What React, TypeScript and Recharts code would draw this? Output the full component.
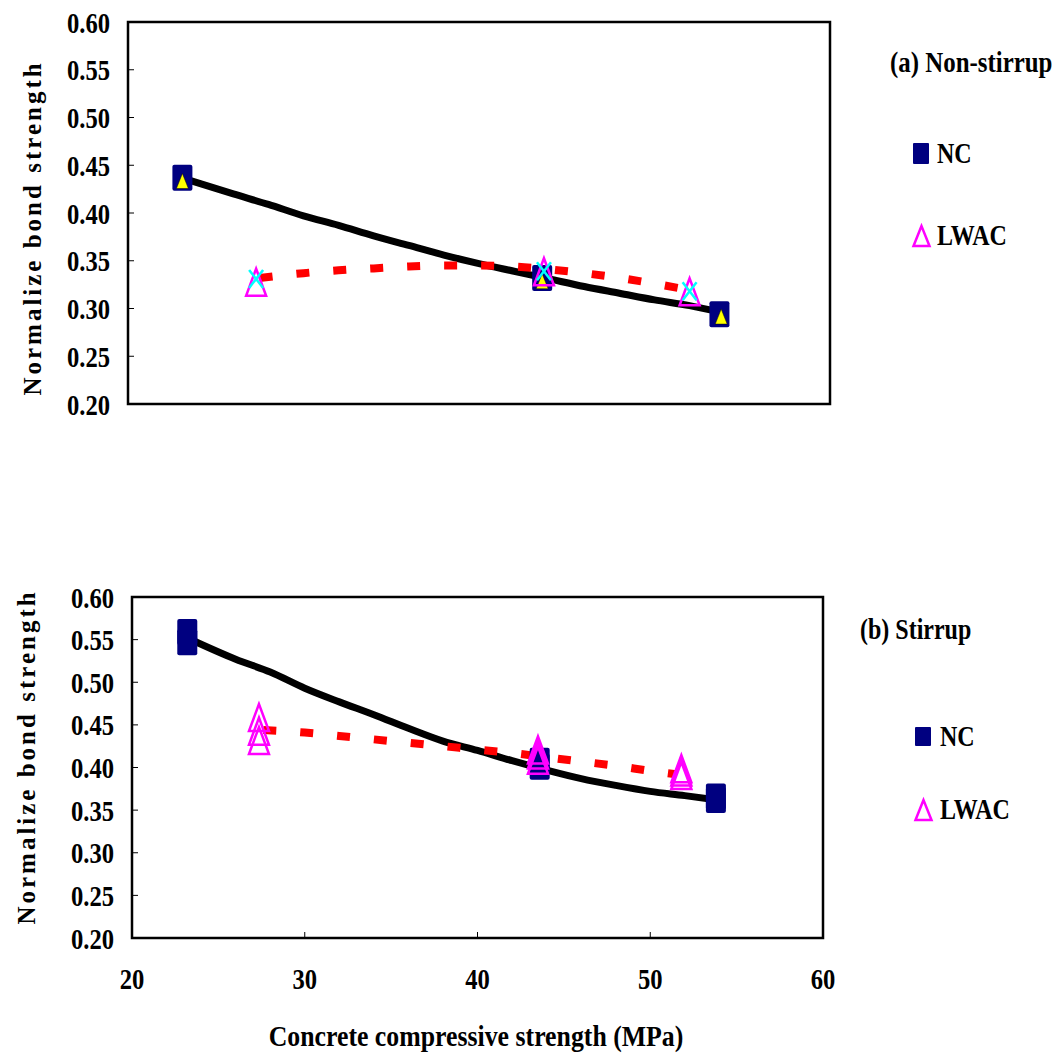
import React from "react";
import {
  ComposedChart,
  Scatter,
  Line,
  XAxis,
  YAxis,
  ReferenceArea,
} from "recharts";

// (a) Non-stirrup
const ncA = [
  { x: 23.1, y: 0.437 },
  { x: 43.6, y: 0.332 },
  { x: 53.7, y: 0.294 },
];
const ncAlt = [
  { x: 23.1, y: 0.433 },
  { x: 43.6, y: 0.328 },
  { x: 53.8, y: 0.291 },
];
const lwacA = [
  { x: 27.3, y: 0.327 },
  { x: 43.7, y: 0.338 },
  { x: 52.0, y: 0.317 },
];
const lwacCross = [
  { x: 27.3, y: 0.331 },
  { x: 43.7, y: 0.339 },
  { x: 52.0, y: 0.318 },
];
const ncTrendA = [
  { x: 23.2, y: 0.436 }, { x: 26, y: 0.42 }, { x: 28, y: 0.409 },
  { x: 30, y: 0.397 }, { x: 32, y: 0.387 }, { x: 34, y: 0.376 },
  { x: 36, y: 0.366 }, { x: 38, y: 0.356 }, { x: 40, y: 0.347 },
  { x: 42, y: 0.339 }, { x: 44, y: 0.331 }, { x: 46, y: 0.323 },
  { x: 48, y: 0.316 }, { x: 50, y: 0.309 }, { x: 52, y: 0.303 },
  { x: 53.8, y: 0.296 },
];
const lwacTrendA = [
  { x: 27.5, y: 0.332 }, { x: 30, y: 0.337 }, { x: 32, y: 0.34 },
  { x: 34, y: 0.342 }, { x: 36, y: 0.344 }, { x: 38, y: 0.345 },
  { x: 40, y: 0.345 }, { x: 42, y: 0.344 }, { x: 44, y: 0.341 },
  { x: 46, y: 0.337 }, { x: 48, y: 0.332 }, { x: 50, y: 0.326 },
  { x: 51.5, y: 0.321 },
];

// (b) Stirrup
const ncB = [
  { x: 23.2, y: 0.559 }, { x: 23.2, y: 0.547 },
  { x: 43.6, y: 0.408 }, { x: 43.6, y: 0.401 },
  { x: 53.8, y: 0.366 }, { x: 53.8, y: 0.362 },
];
const lwacB = [
  { x: 27.35, y: 0.458 }, { x: 27.35, y: 0.442 }, { x: 27.35, y: 0.431 },
  { x: 43.5, y: 0.42 }, { x: 43.5, y: 0.414 }, { x: 43.5, y: 0.408 },
  { x: 51.8, y: 0.398 }, { x: 51.8, y: 0.394 }, { x: 51.8, y: 0.39 },
];
const ncTrendB = [
  { x: 23.3, y: 0.551 }, { x: 26, y: 0.527 }, { x: 28, y: 0.512 },
  { x: 30, y: 0.493 }, { x: 32, y: 0.477 }, { x: 34, y: 0.462 },
  { x: 36, y: 0.446 }, { x: 38, y: 0.431 }, { x: 40, y: 0.42 },
  { x: 42, y: 0.408 }, { x: 44, y: 0.397 }, { x: 46, y: 0.387 },
  { x: 48, y: 0.379 }, { x: 50, y: 0.372 }, { x: 52, y: 0.367 },
  { x: 53.8, y: 0.362 },
];
const lwacTrendB = [
  { x: 27.6, y: 0.444 }, { x: 30, y: 0.441 }, { x: 32, y: 0.437 },
  { x: 34, y: 0.433 }, { x: 36, y: 0.429 }, { x: 38, y: 0.425 },
  { x: 40, y: 0.421 }, { x: 42, y: 0.417 }, { x: 44, y: 0.412 },
  { x: 46, y: 0.407 }, { x: 48, y: 0.402 }, { x: 50, y: 0.396 },
  { x: 51.5, y: 0.392 },
];

const xTicks = [20, 30, 40, 50, 60];
const yTicks = [0.2, 0.25, 0.3, 0.35, 0.4, 0.45, 0.5, 0.55, 0.6];

const FONT = "Liberation Serif, Tinos, DejaVu Serif, serif";
const NAVY = "#000080";
const MAGENTA = "#ff00ff";

const Square = (p: any) => (
  <rect x={p.cx - 10} y={p.cy - 13} width={20} height={26} rx={2} fill={NAVY} />
);
const Tri = (p: any) => (
  <polygon
    points={`${p.cx},${p.cy - 14} ${p.cx - 10},${p.cy + 13} ${p.cx + 10},${p.cy + 13}`}
    fill="none"
    stroke={MAGENTA}
    strokeWidth={2.5}
  />
);
const YellowTri = (p: any) => (
  <polygon
    points={`${p.cx},${p.cy - 8} ${p.cx - 6},${p.cy + 7} ${p.cx + 6},${p.cy + 7}`}
    fill="#ffff00"
    stroke="#000"
    strokeWidth={0.5}
  />
);
const Cross = (p: any) => (
  <g stroke="#00ffff" strokeWidth={2.5}>
    <line x1={p.cx - 7} y1={p.cy - 9} x2={p.cx + 7} y2={p.cy + 9} />
    <line x1={p.cx + 7} y1={p.cy - 9} x2={p.cx - 7} y2={p.cy + 9} />
  </g>
);

const YTick = (p: any) => (
  <g transform={`translate(${p.x},${p.y})`}>
    <text
      transform="scale(0.82,1)"
      textAnchor="end"
      dy="0.35em"
      style={{ fontFamily: FONT, fontWeight: 700, fontSize: 30 }}
      fill="#000"
    >
      {Number(p.payload.value).toFixed(2)}
    </text>
  </g>
);
const XTick = (p: any) => (
  <g transform={`translate(${p.x},${p.y})`}>
    <text
      transform="scale(0.82,1)"
      textAnchor="middle"
      dy="0.71em"
      style={{ fontFamily: FONT, fontWeight: 700, fontSize: 30 }}
      fill="#000"
    >
      {p.payload.value}
    </text>
  </g>
);

interface PanelProps {
  top: number;
  height: number;
  margin: { top: number; right: number; bottom: number; left: number };
  showX: boolean;
  nc: { x: number; y: number }[];
  lwac: { x: number; y: number }[];
  ncTrend: { x: number; y: number }[];
  lwacTrend: { x: number; y: number }[];
  extraYellow?: { x: number; y: number }[];
  extraCross?: { x: number; y: number }[];
}

function Panel(props: PanelProps) {
  const { margin } = props;
  return (
    <div style={{ position: "absolute", left: 0, top: props.top }}>
      <ComposedChart width={1061} height={props.height} margin={margin}>
        <XAxis
          type="number"
          dataKey="x"
          domain={[20, 60]}
          ticks={xTicks}
          hide={!props.showX}
          height={props.showX ? 60 : 0}
          tick={<XTick />}
          tickSize={-6}
          tickMargin={36}
          axisLine={{ stroke: "#000", strokeWidth: 2 }}
          tickLine={{ stroke: "#000", strokeWidth: 1 }}
          allowDataOverflow
        />
        <YAxis
          type="number"
          dataKey="y"
          domain={[0.2, 0.6]}
          ticks={yTicks}
          width={100}
          tick={<YTick />}
          tickSize={-6}
          tickMargin={24}
          axisLine={{ stroke: "#000", strokeWidth: 2 }}
          tickLine={{ stroke: "#000", strokeWidth: 1 }}
          allowDataOverflow
        />
        <ReferenceArea
          x1={20}
          x2={60}
          y1={0.2}
          y2={0.6}
          fill="none"
          fillOpacity={0}
          stroke="#000"
          strokeWidth={2.5}
          ifOverflow="extendDomain"
        />
        <Scatter data={props.nc} shape={Square} isAnimationActive={false} />
        {props.extraYellow && (
          <Scatter data={props.extraYellow} shape={YellowTri} isAnimationActive={false} />
        )}
        <Line
          data={props.ncTrend}
          dataKey="y"
          type="monotone"
          stroke="#000"
          strokeWidth={7}
          strokeLinecap="round"
          dot={false}
          isAnimationActive={false}
        />
        <Scatter data={props.lwac} shape={Tri} isAnimationActive={false} />
        {props.extraCross && (
          <Scatter data={props.extraCross} shape={Cross} isAnimationActive={false} />
        )}
        <Line
          data={props.lwacTrend}
          dataKey="y"
          type="monotone"
          stroke="#ff0000"
          strokeWidth={8}
          strokeDasharray="13 24"
          dot={false}
          isAnimationActive={false}
        />
      </ComposedChart>
    </div>
  );
}

const txt = {
  style: { fontFamily: FONT, fontWeight: 700 },
  fill: "#000",
};

export default function App() {
  return (
    <div
      style={{
        position: "absolute",
        left: 0,
        top: 0,
        width: 1061,
        height: 1057,
        background: "#fff",
        overflow: "hidden",
      }}
    >
      <Panel
        top={0}
        height={420}
        margin={{ top: 22, right: 231, bottom: 16, left: 28 }}
        showX={false}
        nc={ncA}
        lwac={lwacA}
        ncTrend={ncTrendA}
        lwacTrend={lwacTrendA}
        extraYellow={ncAlt}
        extraCross={lwacCross}
      />
      <Panel
        top={560}
        height={497}
        margin={{ top: 37, right: 238, bottom: 59, left: 32 }}
        showX={true}
        nc={ncB}
        lwac={lwacB}
        ncTrend={ncTrendB}
        lwacTrend={lwacTrendB}
      />
      <svg
        width={1061}
        height={1057}
        style={{ position: "absolute", left: 0, top: 0, pointerEvents: "none" }}
      >
        {/* axis titles */}
        <text
          {...txt}
          fontSize={25}
          letterSpacing={3}
          textAnchor="middle"
          transform="translate(41,228) rotate(-90)"
        >
          Normalize bond strength
        </text>
        <text
          {...txt}
          fontSize={25}
          letterSpacing={3}
          textAnchor="middle"
          transform="translate(35,757) rotate(-90)"
        >
          Normalize bond strength
        </text>
        <text {...txt} fontSize={30} textAnchor="middle" transform="translate(476,1046) scale(0.86,1)">
          Concrete compressive strength (MPa)
        </text>

        {/* legend (a) */}
        <text {...txt} fontSize={30} transform="translate(890,72) scale(0.83,1)">
          (a) Non-stirrup
        </text>
        <rect x={913} y={143} width={16} height={21} rx={1} fill={NAVY} />
        <text {...txt} fontSize={30} transform="translate(937,163) scale(0.8,1)">
          NC
        </text>
        <polygon points="921.5,226 913.5,246 929.5,246" fill="none" stroke={MAGENTA} strokeWidth={2.5} />
        <text {...txt} fontSize={30} transform="translate(937,245) scale(0.8,1)">
          LWAC
        </text>

        {/* legend (b) */}
        <text {...txt} fontSize={30} transform="translate(860,639) scale(0.8,1)">
          (b) Stirrup
        </text>
        <rect x={915} y={727} width={16} height={19} rx={1} fill={NAVY} />
        <text {...txt} fontSize={30} transform="translate(940,746) scale(0.8,1)">
          NC
        </text>
        <polygon points="923.5,800 915.5,820 931.5,820" fill="none" stroke={MAGENTA} strokeWidth={2.5} />
        <text {...txt} fontSize={30} transform="translate(940,819) scale(0.8,1)">
          LWAC
        </text>
      </svg>
    </div>
  );
}
